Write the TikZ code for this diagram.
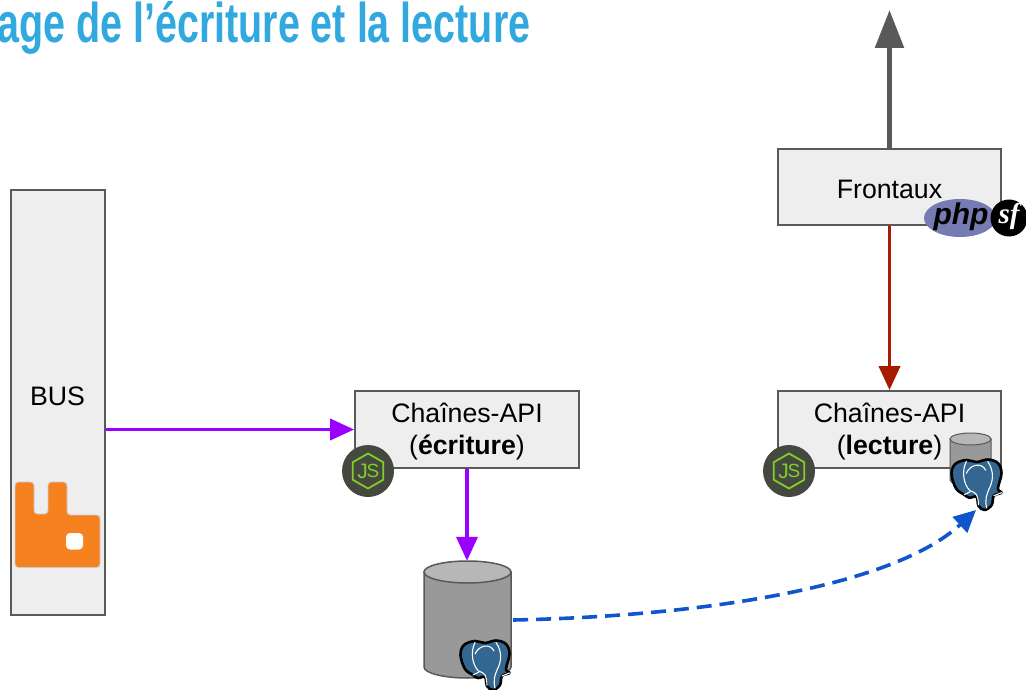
\documentclass[tikz,border=0pt]{standalone}
\usepackage{fontspec}
\setmainfont{Liberation Sans}
\newfontfamily\titlefont[FakeStretch=0.705]{Liberation Sans}
\newfontfamily\sffont{Liberation Serif}
\usetikzlibrary{arrows.meta}
\definecolor{boxfill}{HTML}{EEEEEE}
\definecolor{boxline}{HTML}{595959}
\definecolor{purp}{HTML}{9900FF}
\definecolor{redd}{HTML}{A61C00}
\definecolor{bluu}{HTML}{1155CC}
\definecolor{titleblue}{HTML}{31A9DF}
\definecolor{cylside}{HTML}{999999}
\definecolor{cyltop}{HTML}{B7B7B7}
\definecolor{pgblue}{HTML}{336791}
\definecolor{rabbit}{HTML}{F6821F}
\definecolor{phpv}{HTML}{777BB3}
\definecolor{jsdark}{HTML}{44483F}
\definecolor{jsgreen}{HTML}{83CD29}
\newcommand{\lowerstrut}{\rule{0pt}{23.5pt}}
\tikzset{
 boxn/.style={draw=boxline,fill=boxfill,line width=1.8pt,rectangle,inner sep=0pt,align=center,font=\fontsize{26.7}{32}\selectfont},
 conn/.style={line width=3.8pt,-{Triangle[length=24pt,width=21pt]}},
}
% x y of top-left, width of the elephant
\newcommand{\pgelephant}[3]{%
\begin{scope}[shift={(#1,#2)},x=#3/100*1pt,y=-#3/100*1pt]
 \path[fill=pgblue,draw=black,line width=2.6pt,line join=round]
  plot[smooth cycle,tension=.6] coordinates{(1,30)(8,10)(30,2)(50,6)(72,1)(92,8)(99,28)(92,58)(99,66)(84,72)(80,90)(66,100)(54,92)(50,74)(36,76)(26,70)(10,58)};
 \draw[white,line width=1.1pt,line cap=round] (30,5) .. controls (20,25) and (25,50) .. (37,62) (37,62) .. controls (50,66) and (53,70) .. (54,90);
 \draw[white,line width=1.1pt,line cap=round] (72,5) .. controls (86,25) and (82,45) .. (74,60) .. controls (70,70) and (66,80) .. (70,96);
 \draw[white,line width=1.1pt,line cap=round] (30,28) .. controls (38,10) and (60,6) .. (68,22);
 \draw[white,line width=1.1pt,line cap=round] (84,72) -- (99,66) (26,70) -- (38,64);
\end{scope}}
% centre of the node.js badge
\newcommand{\jsbadge}[2]{%
\begin{scope}[shift={(#1,#2)}]
 \fill[jsdark] (0,0) circle[radius=26];
 \draw[jsgreen,line width=1.8pt,line join=round] (0,-17.5) -- (15.2,-8.8) -- (15.2,8.8) -- (0,17.5) -- (-15.2,8.8) -- (-15.2,-8.8) -- cycle;
 \node[text=jsgreen,font=\fontsize{21}{22}\selectfont,inner sep=0pt] at (-5.5,0.5) {J};
 \node[text=jsgreen,font=\fontsize{19}{20}\selectfont,inner sep=0pt] at (5,0) {S};
\end{scope}}
\begin{document}
\begin{tikzpicture}[x=1pt,y=-1pt]
\useasboundingbox (0,0) rectangle (1026,690);
\clip (0,0) rectangle (1026,690);
\fill[white] (0,0) rectangle (1026,690);
\node[anchor=base west,inner sep=0pt,text=titleblue,font=\titlefont\bfseries\fontsize{56}{60}\selectfont] (title) at (-3,43) {age de l’écriture et la lecture};

% boxes
\node[boxn,minimum width=94pt,minimum height=425pt] (bus) at (58,402.5) {};
\node[font=\fontsize{26.7}{32}\selectfont,inner sep=0pt] (buslabel) at (57.5,396) {BUS};
\node[boxn,minimum width=224pt,minimum height=77pt] (ecr) at (467,429.5) {\lowerstrut Chaînes-API\\(\textbf{écriture})};
\node[boxn,minimum width=223pt,minimum height=77pt] (lec) at (889.5,429.5) {\lowerstrut Chaînes-API\\(\textbf{lecture})};
\node[boxn,minimum width=223pt,minimum height=76pt] (front) at (889.5,187) {\lowerstrut Frontaux};

% large cylinder
\node[minimum width=87pt,minimum height=116pt,inner sep=0pt] (db) at (467.5,619) {};
\filldraw[fill=cylside,draw=boxline,line width=1.5pt] (424,572) -- (424,667) arc[start angle=180,end angle=0,x radius=43.5,y radius=11] -- (511,572) -- cycle;
\filldraw[fill=cyltop,draw=boxline,line width=1.5pt] (467.5,572) ellipse[x radius=43.5,y radius=11];

% small cylinder
\node[minimum width=41pt,minimum height=53pt,inner sep=0pt] (dbs) at (970,458.5) {};
\filldraw[fill=cylside,draw=boxline,line width=1pt] (950,439) -- (950,480) arc[start angle=180,end angle=0,x radius=20.5,y radius=5.5] -- (991,439) -- cycle;
\filldraw[fill=cyltop,draw=boxline,line width=1pt] (970.5,439) ellipse[x radius=20.5,y radius=6];

% rabbit
\draw[fill=rabbit,draw=black!20,line width=.8pt,rounded corners=3.5pt] (15,482) -- (34,482) -- (34,514) -- (48,514) -- (48,482) -- (67,482) -- (67,515) -- (100,515) -- (100,567.5) -- (15,567.5) -- cycle;
\fill[white,rounded corners=4pt] (66,533) rectangle (83,549.5);

% badges
\jsbadge{368}{471}
\jsbadge{789}{471}

% php + symfony
\fill[phpv] (960,218) ellipse[x radius=36,y radius=19];
\node[font=\bfseries\itshape\fontsize{30}{30}\selectfont,inner sep=0pt] (php) at (961,216.5) {php};
\fill[black] (1009,218) circle[radius=18.5];
\node[text=white,font=\sffont\bfseries\itshape\fontsize{29}{29}\selectfont,inner sep=0pt] (sf) at (1009,216) {sf};

% elephants
\pgelephant{460}{640}{50}
\pgelephant{951}{459}{51}

% connectors
\coordinate (top) at (889.5,10);
\coordinate (pgend) at (976,510);
\draw[line width=5.5pt,boxline,-{Triangle[length=38pt,width=28pt]}] (front.north) -- (top);
\draw[conn,redd] (front.south) -- (lec.north);
\draw[conn,purp] (bus.east |- ecr.center) -- (ecr.west);
\draw[conn,purp] (ecr.south) -- (ecr.south |- db.north);
\draw[line width=3.6pt,bluu,dash pattern=on 15pt off 8pt,-{Triangle[length=22pt,width=21pt]}] (db.east |- 0,620) ++(2,0) .. controls (710,616) and (895,585) .. (pgend);
\end{tikzpicture}
\end{document}
